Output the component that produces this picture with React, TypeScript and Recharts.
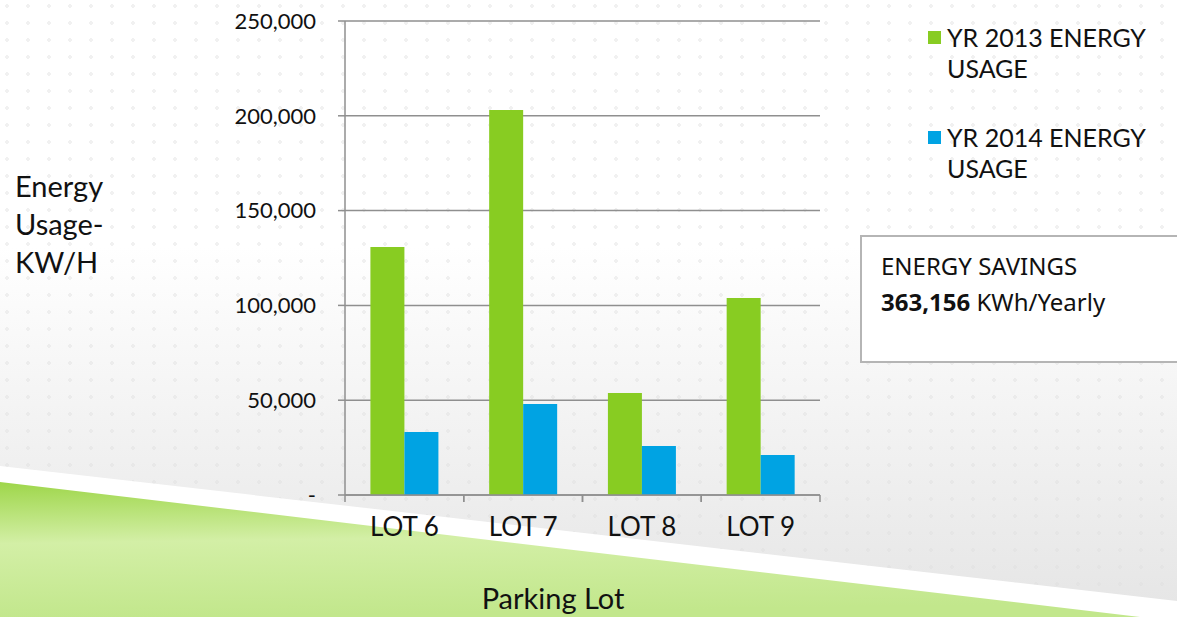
import { Bar, BarChart, CartesianGrid, Legend, XAxis, YAxis } from "recharts";

const lots = ["LOT 6", "LOT 7", "LOT 8", "LOT 9"];
const usage2013 = [130800, 203000, 53800, 103900];
const usage2014 = [33200, 48000, 25800, 21100];
const yTicks = [0, 50000, 100000, 150000, 200000, 250000];
const seriesNames = ["YR 2013 ENERGY USAGE", "YR 2014 ENERGY USAGE"];
const seriesColors = ["#88CC22", "#00A3E3"];

const data = lots.map((lot, i) => ({ lot, y2013: usage2013[i], y2014: usage2014[i] }));

const FONT = "Lato, 'Open Sans', sans-serif";
const AXIS_GREY = "#8f8f8f";

function LotTick(props: any) {
  const { x, y, payload } = props;
  const half = payload?.offset ?? 0;
  return (
    <g>
      <line x1={x - half} y1={y - 8} x2={x - half} y2={y - 1} stroke={AXIS_GREY} strokeWidth={1.5} />
      <line x1={x + half} y1={y - 8} x2={x + half} y2={y - 1} stroke={AXIS_GREY} strokeWidth={1.5} />
      <text x={x} y={y + 33} textAnchor="middle" fill="#111" fontSize={26} fontFamily={FONT}>
        {payload.value}
      </text>
    </g>
  );
}

function LegendBox() {
  return (
    <div style={{ fontFamily: FONT, fontSize: 25, color: "#111", lineHeight: "31px" }}>
      {seriesNames.map((name, i) => {
        const words = name.split(" ");
        return (
          <div key={name} style={{ display: "flex", marginBottom: 38 }}>
            <div style={{ width: 13, height: 13, background: seriesColors[i], marginTop: 9, marginRight: 6 }} />
            <div>
              {words.slice(0, 3).join(" ")}
              <br />
              {words.slice(3).join(" ")}
            </div>
          </div>
        );
      })}
    </div>
  );
}

export default function App() {
  return (
    <div style={{ position: "fixed", left: 0, top: 0, width: 1177, height: 617, overflow: "hidden", background: "#fff" }}>
      <svg width={1177} height={617} style={{ position: "absolute", left: 0, top: 0 }}>
        <defs>
          <linearGradient id="bg-fade" x1="0" y1="0" x2="0" y2="1">
            <stop offset="0%" stopColor="#ffffff" />
            <stop offset="40%" stopColor="#ffffff" />
            <stop offset="100%" stopColor="#e5e5e5" />
          </linearGradient>
          <pattern id="bg-dots" width={21} height={17} patternUnits="userSpaceOnUse">
            <circle cx={7} cy={6} r={1.3} fill="none" stroke="#dedede" strokeWidth={0.7} />
          </pattern>
          <linearGradient id="green-band" x1="0" y1="0" x2="0.12" y2="1">
            <stop offset="0%" stopColor="#9ed64a" />
            <stop offset="45%" stopColor="#d3efa6" />
            <stop offset="100%" stopColor="#c2e78c" />
          </linearGradient>
        </defs>
        <rect width={1177} height={617} fill="url(#bg-fade)" />
        <rect width={1177} height={617} fill="url(#bg-dots)" />
        <polygon points="0,466 1177,601 1177,617 0,617" fill="#ffffff" />
        <polygon points="0,482 1140,617 0,617" fill="url(#green-band)" />
      </svg>

      <div style={{ position: "absolute", left: 0, top: 0 }}>
        <BarChart
          width={1177}
          height={617}
          data={data}
          margin={{ top: 21, right: 357, left: 0, bottom: 0 }}
          barCategoryGap="21.4%"
          barGap={0}
        >
          <CartesianGrid vertical={false} stroke={AXIS_GREY} strokeWidth={1.5} />
          <XAxis
            dataKey="lot"
            height={122}
            axisLine={{ stroke: AXIS_GREY, strokeWidth: 1.5 }}
            tickLine={false}
            tick={<LotTick />}
            interval={0}
          />
          <YAxis
            width={345}
            domain={[0, 250000]}
            ticks={yTicks}
            axisLine={{ stroke: AXIS_GREY, strokeWidth: 1.5 }}
            tickLine={{ stroke: AXIS_GREY, strokeWidth: 1.5 }}
            tickSize={7}
            tickMargin={22}
            tick={{ fill: "#111", fontSize: 22, fontFamily: FONT }}
            tickFormatter={(v: number) => (v === 0 ? "-" : v.toLocaleString("en-US"))}
          />
          <Legend
            layout="horizontal"
            verticalAlign="middle"
            align="center"
            wrapperStyle={{ left: 928, top: 22, width: 249, height: 200 }}
            content={() => <LegendBox />}
          />
          <Bar dataKey="y2013" name={seriesNames[0]} fill={seriesColors[0]} isAnimationActive={false} />
          <Bar dataKey="y2014" name={seriesNames[1]} fill={seriesColors[1]} isAnimationActive={false} />
        </BarChart>
      </div>

      <div
        style={{
          position: "absolute",
          left: 15,
          top: 167,
          fontFamily: FONT,
          fontSize: 29,
          lineHeight: "38px",
          color: "#111",
        }}
      >
        Energy
        <br />
        Usage-
        <br />
        KW/H
      </div>

      <div
        style={{
          position: "absolute",
          left: 345,
          width: 416,
          top: 580,
          textAlign: "center",
          fontFamily: FONT,
          fontSize: 29,
          lineHeight: "36px",
          color: "#111",
        }}
      >
        Parking Lot
      </div>

      <div
        style={{
          position: "absolute",
          left: 860,
          top: 235,
          width: 330,
          height: 128,
          border: "2px solid #b5b5b5",
          background: "#fff",
          boxSizing: "border-box",
          padding: "11px 0 0 19px",
          fontFamily: "'Noto Sans', 'Open Sans', sans-serif",
          fontSize: 24,
          lineHeight: "36px",
          color: "#111",
        }}
      >
        ENERGY SAVINGS
        <br />
        <b>363,156</b> KWh/Yearly
      </div>
    </div>
  );
}
